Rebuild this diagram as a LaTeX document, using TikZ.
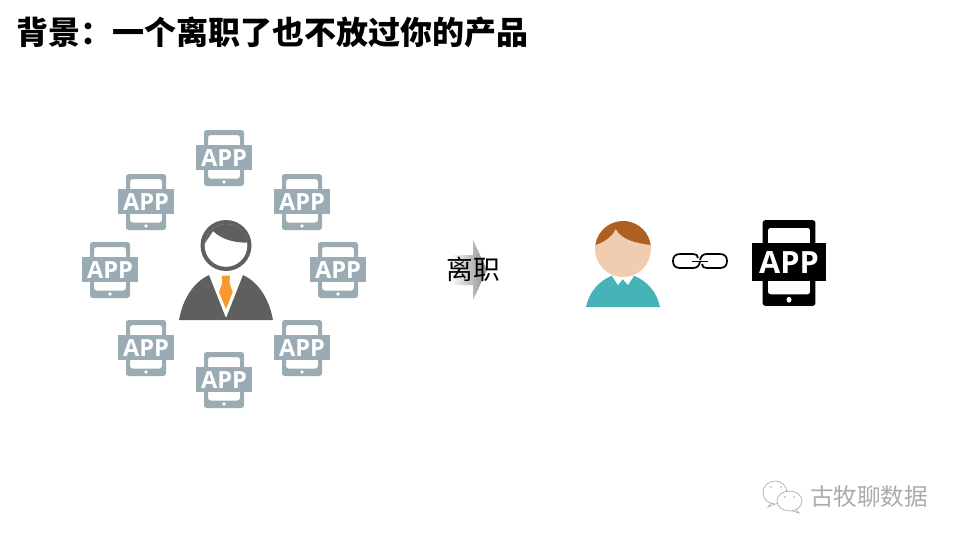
\documentclass[tikz,border=0pt]{standalone}
\usepackage{fontspec}
\setmainfont{Liberation Sans}
\newfontfamily\cjk{Noto Sans CJK SC}
\newfontfamily\appfont{Open Sans}

\definecolor{phonegray}{HTML}{9BABB4}
\definecolor{suitgray}{HTML}{5F5F5F}
\definecolor{tieorange}{HTML}{F79A2E}
\definecolor{skin}{HTML}{F0CDB0}
\definecolor{hairbrown}{HTML}{AD6024}
\definecolor{shirtteal}{HTML}{45B3B8}
\definecolor{marklight}{HTML}{ABABAB}

\tikzset{
    apptext/.style={text=white, inner sep=0pt, font=\appfont\bfseries\fontsize{17.7}{17.7}\selectfont},
    phone/.pic={
        \path[pic actions, even odd rule, rounded corners=2pt] (-20,-28) rectangle (20,28) (-16,-23) rectangle (16,20.5);
        \path[pic actions] (-28,-13) rectangle (28,12);
        \fill[white] (0,24) circle (1.9);
        \node[apptext] (-label) at (0,0) {APP};
    }
}

\begin{document}
\begin{tikzpicture}[
    x=0.75pt, y=-0.75pt,
    headline/.style={inner sep=0pt, font=\cjk\bfseries\fontsize{24}{24}\selectfont},
    say/.style={inner sep=0pt, font=\cjk\fontsize{20}{20}\selectfont},
    wmtext/.style={inner sep=0pt, text=marklight, font=\cjk\fontsize{17.7}{17.7}\selectfont},
    chain/.style={draw=black, line width=1.3pt},
    bubble/.style={draw=marklight, fill=white, line width=0.5pt}
]
\useasboundingbox (0,0) rectangle (960,540);

% Title
\node (title) [headline, anchor=west] at (16,32) {背景：一个离职了也不放过你的产品};

% Ring of phones
\foreach \px/\py [count=\i] in {224/158, 146/202, 302/202, 110/270, 338/270, 146/348, 302/348, 224/380}
    \pic (app\i) [fill=phonegray] at (\px,\py) {phone};

% Man in suit
\fill[suitgray] (226,245.5) circle (25.5);
\fill[white] (226,245.5) circle (21.3);
\fill[suitgray] (204.8,243.6) arc (185:352:21.4) .. controls (236,243) and (222,240) .. (213,231) .. controls (211,235) and (208,238) .. cycle;
\fill[suitgray] (179,320) .. controls (183,298) and (194,282) .. (209,275) -- (225.5,317) -- (226.5,317) -- (243,275) .. controls (258,282) and (269,298) .. (273,320) -- cycle;
\fill[tieorange] (221.7,275.7) -- (230,275.7) -- (229.5,283) -- (232.7,292) -- (226,309) -- (219,292) -- (222.3,283) -- cycle;

% Arrow and its word
\shade[left color=white, middle color=black!28, right color=black!45] (450,255) -- (473,255) -- (473,240) -- (487,270) -- (473,300) -- (473,285) -- (450,285) -- cycle;
\node (leave) [say] at (473.5,269) {离职};

% Man with link
\fill[shirtteal] (586,307) .. controls (589,292) and (599,281) .. (611.7,275.7) -- (634,275.7) .. controls (647,281) and (657,292) .. (660,307) -- cycle;
\fill[white] (611.7,275.7) -- (634,275.7) -- (628,285) -- (622.7,279) -- (618,285) -- cycle;
\fill[skin] (623,249) circle (28);
\fill[hairbrown] (595.4,245) arc (188:352:27.9) .. controls (636,243) and (622,240) .. (615.7,229) .. controls (612,237) and (604,242) .. cycle;

% Chain
\draw[chain] (698,258) .. controls (698,255) and (696,254) .. (693,254) -- (680,254) .. controls (675,254) and (673,257) .. (673,261) .. controls (673,265) and (675,268) .. (680,268) -- (693,268) .. controls (697,268) and (699,266) .. (700,262);
\draw[chain] (702,264) .. controls (702,267) and (704,268) .. (707,268) -- (720,268) .. controls (725,268) and (727,265) .. (727,261) .. controls (727,257) and (725,254) .. (720,254) -- (707,254) .. controls (703,254) and (701,256) .. (700,260);
\draw[chain] (692,261.5) -- (708,261.5);

\pic (bigapp) [fill=black, xscale=1.32, yscale=1.53, apptext/.append style={font=\appfont\bfseries\fontsize{23}{23}\selectfont}] at (789,263) {phone};

% Watermark
\draw[bubble] (772,502) -- (768,507) -- (776,503.5);
\draw[bubble] (775,492.5) ellipse (12 and 11.5);
\fill[marklight] (771,487) circle (0.8) (781,487) circle (0.8);
\draw[bubble] (795,508) -- (799,513) -- (790,510);
\draw[bubble] (789.5,501) ellipse (12.5 and 10);
\fill[marklight] (785,497) circle (0.8) (794,497) circle (0.8);
\node (brand) [wmtext] at (869,497) {古牧聊数据};
\end{tikzpicture}
\end{document}
